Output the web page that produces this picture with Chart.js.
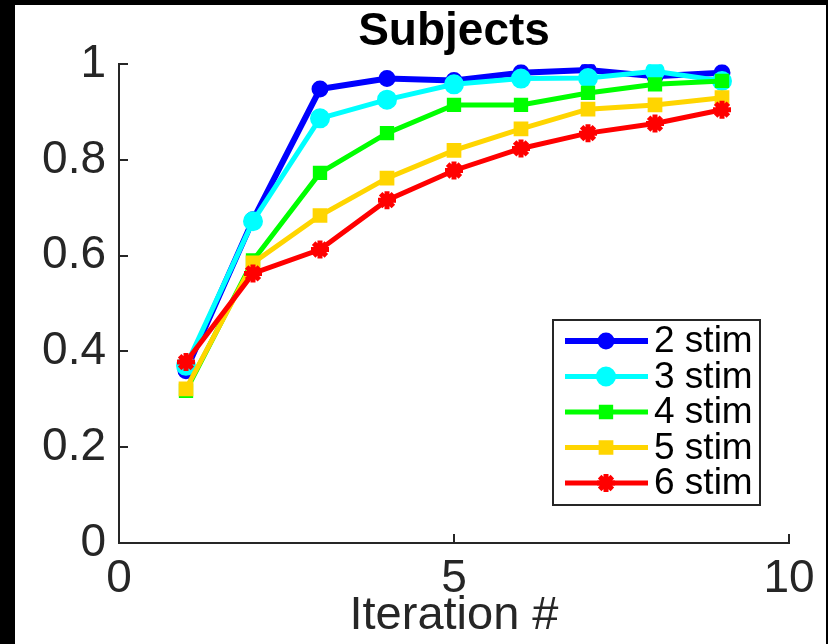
<!DOCTYPE html>
<html>
<head>
<meta charset="utf-8">
<script src="https://cdn.jsdelivr.net/npm/chart.js@4"></script>
<style>
  html, body { margin: 0; padding: 0; background: #000; }
  #wrap { position: absolute; left: 15px; top: 5px; width: 811px; height: 639px; background: #fff; }
</style>
</head>
<body>
<div id="wrap"><canvas id="subjectsChart" width="811" height="639"></canvas></div>
<script>
const iterations = [1, 2, 3, 4, 5, 6, 7, 8, 9];
const stim2 = [0.360, 0.675, 0.948, 0.970, 0.966, 0.982, 0.988, 0.975, 0.982];
const stim3 = [0.370, 0.672, 0.887, 0.926, 0.958, 0.970, 0.971, 0.985, 0.965];
const stim4 = [0.318, 0.590, 0.773, 0.856, 0.915, 0.915, 0.940, 0.958, 0.965];
const stim5 = [0.322, 0.585, 0.684, 0.762, 0.820, 0.865, 0.906, 0.915, 0.930];
const stim6 = [0.378, 0.563, 0.613, 0.716, 0.778, 0.824, 0.856, 0.876, 0.905];
const seriesNames = ["2 stim", "3 stim", "4 stim", "5 stim", "6 stim"];
const xTicks = [0, 5, 10];
const yTickLabels = ["0", "0.2", "0.4", "0.6", "0.8", "1"];

const axisColor = "#262626";
const fontFamily = "'Liberation Sans', Arial, Helvetica, sans-serif";

const styles = [
  { color: "#0000ff", pointStyle: "circle", radius: 7, borderWidth: 3, lineWidth: 6 },
  { color: "#00ffff", pointStyle: "circle", radius: 9, borderWidth: 2, lineWidth: 5 },
  { color: "#00ff00", pointStyle: "rect", radius: 8, borderWidth: 3, lineWidth: 5 },
  { color: "#ffd500", pointStyle: "rect", radius: 9, borderWidth: 2, lineWidth: 5 },
  { color: "#ff0000", pointStyle: "star", radius: 9, borderWidth: 5, lineWidth: 5 },
];

const allSeries = [stim2, stim3, stim4, stim5, stim6];

const datasets = allSeries.map((values, i) => ({
  label: seriesNames[i],
  data: values.map((v, k) => ({ x: iterations[k], y: v })),
  borderColor: styles[i].color,
  backgroundColor: styles[i].color,
  pointBackgroundColor: styles[i].color,
  pointBorderColor: styles[i].color,
  borderWidth: styles[i].lineWidth,
  pointStyle: styles[i].pointStyle,
  pointRadius: styles[i].radius,
  pointBorderWidth: styles[i].borderWidth,
  tension: 0,
  order: allSeries.length - i,
}));

// inward tick marks like the original axes
const innerTicks = {
  id: "innerTicks",
  afterDraw(chart) {
    const ctx = chart.ctx;
    const area = chart.chartArea;
    const xs = chart.scales.x;
    const ys = chart.scales.y;
    ctx.save();
    ctx.strokeStyle = axisColor;
    ctx.lineWidth = 2;
    ctx.beginPath();
    ys.ticks.forEach((t) => {
      const py = Math.round(ys.getPixelForValue(t.value));
      ctx.moveTo(area.left, py);
      ctx.lineTo(area.left + 9, py);
    });
    xs.ticks.forEach((t) => {
      const px = Math.round(xs.getPixelForValue(t.value));
      ctx.moveTo(px, area.bottom);
      ctx.lineTo(px, area.bottom - 9);
    });
    ctx.stroke();
    ctx.restore();
  },
};

// legend box with line + marker samples, lower right inside the axes
const lineLegend = {
  id: "lineLegend",
  afterDraw(chart) {
    const ctx = chart.ctx;
    const area = chart.chartArea;
    const boxW = 207, boxH = 185;
    const bx = area.right - 29 - boxW;
    const by = area.bottom - 38 - boxH;
    ctx.save();
    ctx.fillStyle = "#fff";
    ctx.fillRect(bx, by, boxW, boxH);
    ctx.strokeStyle = axisColor;
    ctx.lineWidth = 2;
    ctx.strokeRect(bx, by, boxW, boxH);
    ctx.font = "37px " + fontFamily;
    ctx.textBaseline = "middle";
    seriesNames.forEach((name, i) => {
      const st = styles[i];
      const cy = by + 21 + i * 35.5;
      ctx.strokeStyle = st.color;
      ctx.lineWidth = st.lineWidth;
      ctx.beginPath();
      ctx.moveTo(bx + 12, cy);
      ctx.lineTo(bx + 95, cy);
      ctx.stroke();
      ctx.fillStyle = st.color;
      ctx.lineWidth = st.borderWidth;
      Chart.helpers.drawPoint(ctx, {
        pointStyle: st.pointStyle,
        radius: st.radius,
        borderWidth: st.borderWidth,
        rotation: 0,
      }, bx + 53, cy);
      ctx.fillStyle = "#000";
      ctx.fillText(name, bx + 101, cy + 1);
    });
    ctx.restore();
  },
};

const ctx = document.getElementById("subjectsChart").getContext("2d");

new Chart(ctx, {
  type: "line",
  data: { datasets: datasets },
  options: {
    responsive: false,
    animation: false,
    devicePixelRatio: 1,
    layout: { padding: { left: 0, right: 37, top: 0, bottom: 0 } },
    plugins: {
      legend: { display: false },
      tooltip: { enabled: false },
      title: {
        display: true,
        text: "Subjects",
        fullSize: false,
        color: "#000",
        font: { family: fontFamily, size: 46, weight: "bold", lineHeight: 1.2 },
        padding: { top: 0, bottom: 4 },
      },
    },
    scales: {
      x: {
        type: "linear",
        min: 0,
        max: 10,
        afterBuildTicks: (scale) => {
          scale.ticks = xTicks.map((v) => ({ value: v }));
        },
        afterFit: (scale) => { scale.height = 101; },
        grid: { display: false, drawTicks: false },
        border: { display: true, color: axisColor, width: 2 },
        ticks: {
          color: axisColor,
          padding: 9,
          maxRotation: 0,
          font: { family: fontFamily, size: 46 },
        },
        title: {
          display: true,
          text: "Iteration #",
          color: axisColor,
          padding: { top: -6, bottom: 0 },
          font: { family: fontFamily, size: 47 },
        },
      },
      y: {
        min: 0,
        max: 1,
        afterFit: (scale) => { scale.width = 104; },
        grid: { display: false, drawTicks: false },
        border: { display: true, color: axisColor, width: 2 },
        ticks: {
          stepSize: 0.2,
          color: axisColor,
          padding: 13,
          font: { family: fontFamily, size: 46 },
          callback: (value, index) => yTickLabels[index],
        },
      },
    },
  },
  plugins: [innerTicks, lineLegend],
});
</script>
</body>
</html>
